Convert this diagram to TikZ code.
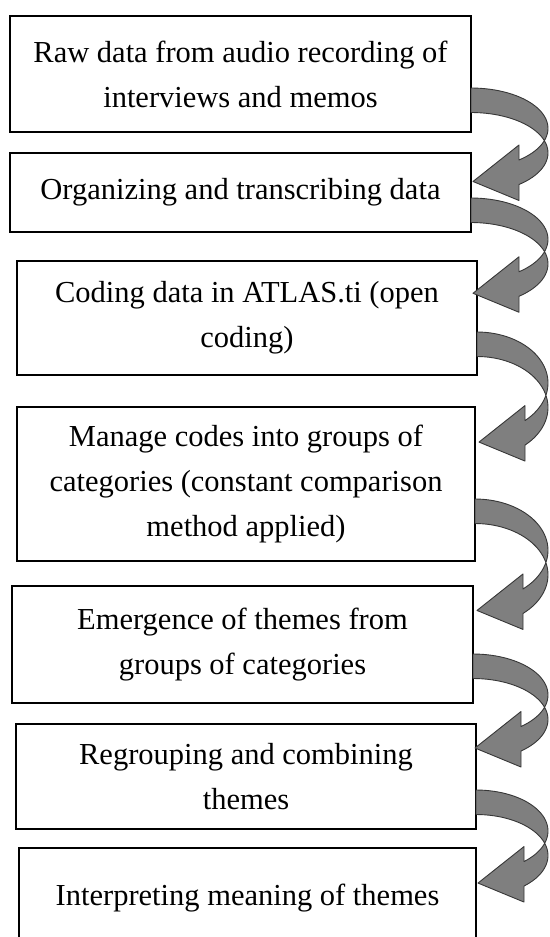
\documentclass[tikz,border=0pt]{standalone}
\usepackage{fontspec}
\setmainfont{Liberation Serif}
\definecolor{ribfill}{RGB}{127,127,127}
\definecolor{ribline}{RGB}{55,55,55}
\newdimen\ribx
% Curved ribbon arrow leaving the right side of a box and turning back
% to point left at the box below.
% #1 source node, #2 top of the band where it leaves the box, #3 half-height of the ellipses
\newcommand\ribbonarrow[3]{%
  \pgfextractx{\ribx}{\pgfpointanchor{#1}{east}}%
  \pgfmathsetmacro\xo{\ribx}%
  \pgfmathsetmacro\rx{548-\xo}%
  \pgfmathsetmacro\tn{-acos(48/\rx)}%
  \pgfmathsetmacro\ca{#2+#3}%
  \pgfmathsetmacro\cb{#2+#3+24.5}%
  \pgfmathsetmacro\ny{\ca-#3*sin(\tn)}%
  \pgfmathsetmacro\my{\cb-#3*sin(\tn)}%
  \draw[ribbon]
    plot[variable=\t,domain=90:\tn,samples=40] ({\xo+\rx*cos(\t)},{\ca-#3*sin(\t)})
    -- (\xo+48,\ny-15) -- (\xo+2,\my-3) -- (\xo+48,\my+16) -- (\xo+48,\my)
    -- plot[variable=\t,domain=\tn:90,samples=40] ({\xo+\rx*cos(\t)},{\cb-#3*sin(\t)})
    -- cycle;
}
\begin{document}
\begin{tikzpicture}[x=1pt,y=-1pt,
  box/.style={draw=black, line width=2pt, fill=white, inner sep=0pt, outer sep=0pt,
    align=center, font=\fontsize{30.5}{45}\selectfont},
  ribbon/.style={fill=ribfill, draw=ribline, line width=0.9pt, line join=round}]
\useasboundingbox (0,0) rectangle (549,937);
\clip (0,0) rectangle (549,937);

\node[box, minimum width=461pt, minimum height=116pt] (b1) at (240.5,74)
  {Raw data from audio recording of\\interviews and memos};
\node[box, minimum width=461pt, minimum height=79pt] (b2) at (240.5,192.5)
  {Organizing and transcribing data};
\node[box, minimum width=460pt, minimum height=114pt] (b3) at (247,318)
  {Coding data in ATLAS.ti (open\\coding)};
\node[box, minimum width=458pt, minimum height=154pt] (b4) at (246,484)
  {Manage codes into groups of\\categories (constant comparison\\method applied)};
\node[box, minimum width=461pt, minimum height=117pt] (b5) at (242.5,644.5)
  {Emergence of themes from\\groups of categories};
\node[box, minimum width=460pt, minimum height=105pt] (b6) at (246,776.5)
  {Regrouping and combining\\themes};
\node[box, minimum width=457pt, minimum height=100pt] (b7) at (247.5,898)
  {Interpreting meaning of themes};

\ribbonarrow{b1}{88}{40.4}
\ribbonarrow{b2}{198}{41.4}
\ribbonarrow{b3}{332}{51}
\ribbonarrow{b4}{499}{51.3}
\ribbonarrow{b5}{654}{41}
\ribbonarrow{b6}{790}{41}
\end{tikzpicture}
\end{document}
